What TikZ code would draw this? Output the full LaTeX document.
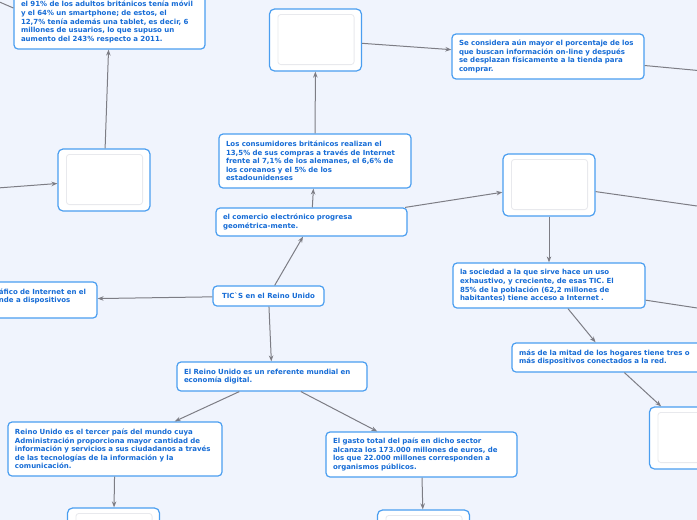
\documentclass[tikz,border=0pt]{standalone}
\usepackage{fontspec}
\setmainfont{DejaVu Sans}
\usetikzlibrary{arrows.meta,calc}
\definecolor{fondo}{RGB}{240,244,253}
\definecolor{borde}{RGB}{74,158,240}
\definecolor{texto}{RGB}{22,108,214}
\definecolor{linea}{RGB}{125,125,133}
\definecolor{marco}{RGB}{232,233,237}
\begin{document}
\begin{tikzpicture}[x=1pt, y=-1pt,
    idea/.style={rectangle, draw=borde, fill=white, line width=1.2pt, rounded corners=4pt, text=texto, align=left, inner xsep=7pt, inner ysep=2pt, font=\fontsize{7}{8.6}\selectfont\bfseries},
    imagen/.style={rectangle, draw=borde, fill=white, line width=1.2pt, rounded corners=5pt, minimum width=92pt, minimum height=62pt},
    hueco/.style={draw=marco, line width=0.8pt, rounded corners=3pt},
    enlace/.style={draw=linea, line width=1pt, -{Stealth[length=6pt,width=4.5pt]}},
    tramo/.style={draw=linea, line width=1pt}
]
    % Fondo y recorte
    \useasboundingbox (0,0) rectangle (697,520);
    \fill[fondo] (0,0) rectangle (697,520);
    \clip (0,0) rectangle (697,520);

    % Nodo central
    \node[idea, align=center, minimum width=111pt, minimum height=20pt] (tics) at (268.5,296) {TICˋS en el Reino Unido};

    % Rama superior
    \node[idea, text width=177pt, minimum height=28pt] (comercio) at (311.5,222) {el comercio electrónico progresa\\geométrica-mente.};
    \node[idea, text width=178pt, minimum height=54pt] (consumo) at (315,161) {Los consumidores británicos realizan el\\13,5\% de sus compras a través de Internet\\frente al 7,1\% de los alemanes, el 6,6\% de\\los coreanos y el 5\% de los\\estadounidenses};
    \node[imagen] (fotoB) at (315.5,40) {};
    \node[idea, text width=178pt, minimum height=45pt] (tienda) at (548,56.5) {Se considera aún mayor el porcentaje de los\\que buscan información on-line y después\\se desplazan físicamente a la tienda para\\comprar.};
    \node[imagen] (fotoC) at (549,185) {};
    \node[idea, text width=178pt, minimum height=45pt] (sociedad) at (549,285.5) {la sociedad a la que sirve hace un uso\\exhaustivo, y creciente, de esas TIC. El\\85\% de la población (62,2 millones de\\habitantes) tiene acceso a Internet .};
    \node[idea, text width=178pt, minimum height=29pt] (hogares) at (608,357.5) {más de la mitad de los hogares tiene tres o\\más dispositivos conectados a la red.};
    \node[imagen] (fotoD) at (695.5,438) {};

    % Rama izquierda
    \node[idea, text width=178pt, minimum height=36pt] (trafico) at (1,300) {\hspace*{87pt}áfico de Internet en el\\\hspace*{87pt}nde a dispositivos\\\mbox{}};
    \node[imagen] (fotoA) at (104,180) {};
    \node[idea, text width=177pt, minimum height=54pt] (adultos) at (109.5,22) {el 91\% de los adultos británicos tenía móvil\\y el 64\% un smartphone; de estos, el\\12,7\% tenía además una tablet, es decir, 6\\millones de usuarios, lo que supuso un\\aumento del 243\% respecto a 2011.};

    % Rama inferior
    \node[idea, text width=176pt, minimum height=29pt] (referente) at (272,376.5) {El Reino Unido es un referente mundial en\\economía digital.};
    \node[idea, text width=200pt, minimum height=54pt] (tercer) at (115,449) {Reino Unido es el tercer país del mundo cuya\\Administración proporciona mayor cantidad de\\información y servicios a sus ciudadanos a través\\de las tecnologías de la información y la\\comunicación.};
    \node[idea, text width=177pt, minimum height=45pt] (gasto) at (421.5,454.5) {El gasto total del país en dicho sector\\alcanza los 173.000 millones de euros, de\\los que 22.000 millones corresponden a\\organismos públicos.};
    \node[imagen] (fotoE) at (113.5,539) {};
    \node[imagen] (fotoF) at (423.5,541) {};

    % Huecos de imagen
    \foreach \f in {fotoA,fotoB,fotoC,fotoD,fotoE,fotoF} {
        \draw[hueco] ($(\f.north west)+(9,6)$) rectangle ($(\f.south east)+(-8,-7)$);
    }

    % Extremos fuera del recorte
    \coordinate (izqA) at (-40,-15);
    \coordinate (izqB) at (-40,190.8);
    \coordinate (derA) at (800,80);
    \coordinate (derB) at (800,220.6);
    \coordinate (derC) at (800,323.6);

    % Conexiones
    \draw[enlace] (tics) -- (comercio);
    \draw[enlace] (tics) -- (trafico);
    \draw[enlace] (tics) -- (referente);
    \draw[enlace] (comercio) -- (consumo);
    \draw[enlace] (comercio) -- (fotoC);
    \draw[enlace] (consumo) -- (fotoB);
    \draw[enlace] (fotoB) -- (tienda);
    \draw[tramo] (tienda) -- (derA);
    \draw[tramo] (fotoC) -- (derB);
    \draw[enlace] (fotoC) -- (sociedad);
    \draw[tramo] (sociedad) -- (derC);
    \draw[enlace] (sociedad) -- (hogares);
    \draw[enlace] (hogares) -- (fotoD);
    \draw[enlace] (fotoA) -- (adultos);
    \draw[enlace] (izqB) -- (fotoA);
    \draw[tramo] (izqA) -- ([yshift=14pt]adultos.west);
    \draw[enlace] (referente) -- (tercer);
    \draw[enlace] (referente) -- (gasto);
    \draw[enlace] (tercer) -- (fotoE);
    \draw[enlace] (gasto) -- (fotoF);
\end{tikzpicture}
\end{document}
